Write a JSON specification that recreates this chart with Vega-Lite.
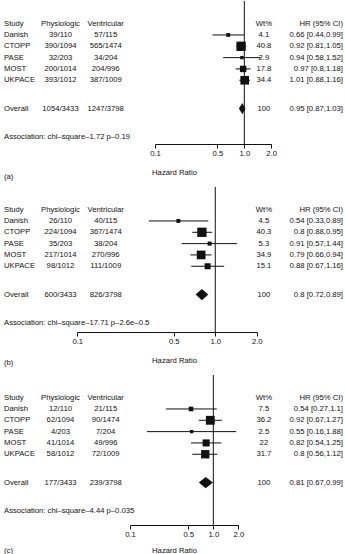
{
  "$schema": "https://vega.github.io/schema/vega-lite/v6.json",
  "padding": 0,
  "background": "white",
  "bounds": "flush",
  "spacing": 43,
  "config": {
    "view": {"stroke": null},
    "text": {"font": "Liberation Sans", "fontSize": 7.7, "color": "#111"},
    "axis": {"labelFont": "Liberation Sans", "labelFontSize": 7.7, "labelColor": "#111", "titleFont": "Liberation Sans", "titleFontSize": 7.7, "titleFontWeight": "normal", "titleColor": "#111", "domainColor": "#111", "tickColor": "#111", "grid": false}
  },
  "datasets": {
    "dshape": [
      {"pt": "lo", "top": "Overall", "bot": "Overall"},
      {"pt": "hr", "top": "ovTop", "bot": "ovBot"},
      {"pt": "hi", "top": "Overall", "bot": "Overall"}
    ],
    "a": [
      {"row": "header", "study": "Study", "phys": "Physiologic", "vent": "Ventricular", "wt": "Wt%", "ci": "HR (95% CI)"},
      {"row": "Danish", "kind": "study", "study": "Danish", "phys": "39/110", "vent": "57/115", "wt": 4.1, "hr": 0.66, "lo": 0.44, "hi": 0.99, "ci": "0.66 [0.44,0.99]"},
      {"row": "CTOPP", "kind": "study", "study": "CTOPP", "phys": "390/1094", "vent": "565/1474", "wt": 40.8, "hr": 0.92, "lo": 0.81, "hi": 1.05, "ci": "0.92 [0.81,1.05]"},
      {"row": "PASE", "kind": "study", "study": "PASE", "phys": "32/203", "vent": "34/204", "wt": 2.9, "hr": 0.94, "lo": 0.58, "hi": 1.52, "ci": "0.94 [0.58,1.52]"},
      {"row": "MOST", "kind": "study", "study": "MOST", "phys": "200/1014", "vent": "204/996", "wt": 17.8, "hr": 0.97, "lo": 0.8, "hi": 1.18, "ci": "0.97 [0.8,1.18]"},
      {"row": "UKPACE", "kind": "study", "study": "UKPACE", "phys": "393/1012", "vent": "387/1009", "wt": 34.4, "hr": 1.01, "lo": 0.88, "hi": 1.16, "ci": "1.01 [0.88,1.16]"},
      {"row": "Overall", "kind": "overall", "study": "Overall", "phys": "1054/3433", "vent": "1247/3798", "wt": 100, "hr": 0.95, "lo": 0.87, "hi": 1.03, "ci": "0.95 [0.87,1.03]"},
      {"row": "Association", "study": "Association: chi–square–1.72 p–0.19"},
      {"row": "label", "study": "(a)"}
    ],
    "b": [
      {"row": "header", "study": "Study", "phys": "Physiologic", "vent": "Ventricular", "wt": "Wt%", "ci": "HR (95% CI)"},
      {"row": "Danish", "kind": "study", "study": "Danish", "phys": "26/110", "vent": "40/115", "wt": 4.5, "hr": 0.54, "lo": 0.33, "hi": 0.89, "ci": "0.54 [0.33,0.89]"},
      {"row": "CTOPP", "kind": "study", "study": "CTOPP", "phys": "224/1094", "vent": "367/1474", "wt": 40.3, "hr": 0.8, "lo": 0.68, "hi": 0.95, "ci": "0.8 [0.88,0.95]"},
      {"row": "PASE", "kind": "study", "study": "PASE", "phys": "35/203", "vent": "38/204", "wt": 5.3, "hr": 0.91, "lo": 0.57, "hi": 1.44, "ci": "0.91 [0.57,1.44]"},
      {"row": "MOST", "kind": "study", "study": "MOST", "phys": "217/1014", "vent": "270/996", "wt": 34.9, "hr": 0.79, "lo": 0.66, "hi": 0.94, "ci": "0.79 [0.66,0.94]"},
      {"row": "UKPACE", "kind": "study", "study": "UKPACE", "phys": "98/1012", "vent": "111/1009", "wt": 15.1, "hr": 0.88, "lo": 0.67, "hi": 1.16, "ci": "0.88 [0.67,1.16]"},
      {"row": "Overall", "kind": "overall", "study": "Overall", "phys": "600/3433", "vent": "826/3798", "wt": 100, "hr": 0.8, "lo": 0.72, "hi": 0.89, "ci": "0.8 [0.72,0.89]"},
      {"row": "Association", "study": "Association: chi–square–17.71 p–2.6e–0.5"},
      {"row": "label", "study": "(b)"}
    ],
    "c": [
      {"row": "header", "study": "Study", "phys": "Physiologic", "vent": "Ventricular", "wt": "Wt%", "ci": "HR (95% CI)"},
      {"row": "Danish", "kind": "study", "study": "Danish", "phys": "12/110", "vent": "21/115", "wt": 7.5, "hr": 0.54, "lo": 0.27, "hi": 1.1, "ci": "0.54 [0.27,1.1]"},
      {"row": "CTOPP", "kind": "study", "study": "CTOPP", "phys": "62/1094", "vent": "90/1474", "wt": 36.2, "hr": 0.92, "lo": 0.67, "hi": 1.27, "ci": "0.92 [0.67,1.27]"},
      {"row": "PASE", "kind": "study", "study": "PASE", "phys": "4/203", "vent": "7/204", "wt": 2.5, "hr": 0.55, "lo": 0.16, "hi": 1.88, "ci": "0.55 [0.16,1.88]"},
      {"row": "MOST", "kind": "study", "study": "MOST", "phys": "41/1014", "vent": "49/996", "wt": 22, "hr": 0.82, "lo": 0.54, "hi": 1.25, "ci": "0.82 [0.54,1.25]"},
      {"row": "UKPACE", "kind": "study", "study": "UKPACE", "phys": "58/1012", "vent": "72/1009", "wt": 31.7, "hr": 0.8, "lo": 0.56, "hi": 1.12, "ci": "0.8 [0.56,1.12]"},
      {"row": "Overall", "kind": "overall", "study": "Overall", "phys": "177/3433", "vent": "239/3798", "wt": 100, "hr": 0.81, "lo": 0.67, "hi": 0.99, "ci": "0.81 [0.67,0.99]"},
      {"row": "Association", "study": "Association: chi–square–4.44 p–0.035"},
      {"row": "label", "study": "(c)"}
    ]
  },
  "vconcat": [
    {
      "width": 345, "height": 143,
      "data": {"name": "a"},
      "layer": [
        {
          "layer": [
            {"data": {"values": [{"ref": 1}]}, "mark": {"type": "rule", "color": "#111", "strokeWidth": 1}, "encoding": {"x": {"field": "ref", "type": "quantitative"}}},
            {"transform": [{"filter": {"field": "kind", "equal": "study"}}], "mark": {"type": "rule", "color": "#111", "strokeWidth": 1},
             "encoding": {"x": {"field": "lo", "type": "quantitative", "scale": {"type": "log", "domain": [0.1, 2], "range": [155, 271.2], "nice": false},
               "axis": {"orient": "bottom", "values": [0.1, 0.5, 1, 2], "format": ".1f", "tickSize": 4, "labelPadding": 1, "labelOverlap": false, "labelFlush": false, "title": "Hazard Ratio", "titleX": 174, "titleY": 28, "titleBaseline": "middle", "titleAlign": "center"}},
               "x2": {"field": "hi"}, "y": {"field": "row", "type": "nominal", "axis": null}}},
            {"transform": [{"filter": {"field": "kind", "equal": "study"}}], "mark": {"type": "square", "filled": true, "color": "#111", "opacity": 1},
             "encoding": {"x": {"field": "hr", "type": "quantitative"}, "y": {"field": "row", "type": "nominal", "axis": null}, "size": {"field": "wt", "type": "quantitative", "scale": {"domain": [0, 100], "range": [6, 206]}, "legend": null}}},
            {"transform": [{"filter": {"field": "kind", "equal": "overall"}}, {"fold": ["lo", "hr", "hi"], "as": ["pt", "xv"]}, {"lookup": "pt", "from": {"data": {"name": "dshape"}, "key": "pt", "fields": ["top", "bot"]}}],
             "mark": {"type": "area", "orient": "vertical", "color": "#111", "opacity": 1},
             "encoding": {"x": {"field": "xv", "type": "quantitative", "stack": null}, "y": {"field": "top", "type": "nominal", "axis": null}, "y2": {"field": "bot"}}}
          ]
        },
        {
          "encoding": {"y": {"field": "row", "type": "nominal", "axis": null, "scale": {"type": "point", "padding": 0, "range": [0, 175.5], "domain": ["y0","y1","y2","y3","header","y5","Danish","y7","CTOPP","y9","PASE","y11","MOST","y13","UKPACE","y15","y16","y17","ovTop","Overall","ovBot","y21","y22","y23","Association","y25","y26","y27","y28","y29","y30","label"]}}},
          "layer": [
            {"transform": [{"fold": ["phys", "vent", "wt"], "as": ["col", "txt"]}, {"filter": "datum.txt != null"}], "mark": {"type": "text", "align": "center", "baseline": "middle"},
             "encoding": {"x": {"field": "col", "type": "nominal", "axis": null, "scale": {"type": "point", "padding": 0, "range": [4, 343], "domain": ["study","x1","x2","x3","x4","phys","x6","x7","x8","vent","x10","x11","x12","x13","x14","x15","x16","x17","x18","x19","x20","x21","x22","wt","x24","x25","x26","x27","x28","x29","hr"]}}, "text": {"field": "txt", "type": "nominal"}}},
            {"mark": {"type": "text", "align": "left", "baseline": "middle"}, "encoding": {"x": {"datum": "study", "type": "nominal", "axis": null}, "text": {"field": "study", "type": "nominal"}}},
            {"transform": [{"filter": "datum.ci != null"}], "mark": {"type": "text", "align": "right", "baseline": "middle"}, "encoding": {"x": {"datum": "hr", "type": "nominal", "axis": null}, "text": {"field": "ci", "type": "nominal"}}}
          ]
        }
      ],
      "resolve": {"scale": {"x": "independent"}}
    },
    {
      "width": 345, "height": 145,
      "data": {"name": "b"},
      "layer": [
        {
          "layer": [
            {"data": {"values": [{"ref": 1}]}, "mark": {"type": "rule", "color": "#111", "strokeWidth": 1}, "encoding": {"x": {"field": "ref", "type": "quantitative"}}},
            {"transform": [{"filter": {"field": "kind", "equal": "study"}}], "mark": {"type": "rule", "color": "#111", "strokeWidth": 1},
             "encoding": {"x": {"field": "lo", "type": "quantitative", "scale": {"type": "log", "domain": [0.1, 2], "range": [77.3, 256.8], "nice": false},
               "axis": {"orient": "bottom", "values": [0.1, 0.5, 1, 2], "format": ".1f", "tickSize": 4, "labelPadding": 1, "labelOverlap": false, "labelFlush": false, "title": "Hazard Ratio", "titleX": 174, "titleY": 28, "titleBaseline": "middle", "titleAlign": "center"}},
               "x2": {"field": "hi"}, "y": {"field": "row", "type": "nominal", "axis": null}}},
            {"transform": [{"filter": {"field": "kind", "equal": "study"}}], "mark": {"type": "square", "filled": true, "color": "#111", "opacity": 1},
             "encoding": {"x": {"field": "hr", "type": "quantitative"}, "y": {"field": "row", "type": "nominal", "axis": null}, "size": {"field": "wt", "type": "quantitative", "scale": {"domain": [0, 100], "range": [6, 206]}, "legend": null}}},
            {"transform": [{"filter": {"field": "kind", "equal": "overall"}}, {"fold": ["lo", "hr", "hi"], "as": ["pt", "xv"]}, {"lookup": "pt", "from": {"data": {"name": "dshape"}, "key": "pt", "fields": ["top", "bot"]}}],
             "mark": {"type": "area", "orient": "vertical", "color": "#111", "opacity": 1},
             "encoding": {"x": {"field": "xv", "type": "quantitative", "stack": null}, "y": {"field": "top", "type": "nominal", "axis": null}, "y2": {"field": "bot"}}}
          ]
        },
        {
          "encoding": {"y": {"field": "row", "type": "nominal", "axis": null, "scale": {"type": "point", "padding": 0, "range": [0, 175.5], "domain": ["y0","y1","y2","y3","header","y5","Danish","y7","CTOPP","y9","PASE","y11","MOST","y13","UKPACE","y15","y16","y17","ovTop","Overall","ovBot","y21","y22","y23","Association","y25","y26","y27","y28","y29","y30","label"]}}},
          "layer": [
            {"transform": [{"fold": ["phys", "vent", "wt"], "as": ["col", "txt"]}, {"filter": "datum.txt != null"}], "mark": {"type": "text", "align": "center", "baseline": "middle"},
             "encoding": {"x": {"field": "col", "type": "nominal", "axis": null, "scale": {"type": "point", "padding": 0, "range": [4, 343], "domain": ["study","x1","x2","x3","x4","phys","x6","x7","x8","vent","x10","x11","x12","x13","x14","x15","x16","x17","x18","x19","x20","x21","x22","wt","x24","x25","x26","x27","x28","x29","hr"]}}, "text": {"field": "txt", "type": "nominal"}}},
            {"mark": {"type": "text", "align": "left", "baseline": "middle"}, "encoding": {"x": {"datum": "study", "type": "nominal", "axis": null}, "text": {"field": "study", "type": "nominal"}}},
            {"transform": [{"filter": "datum.ci != null"}], "mark": {"type": "text", "align": "right", "baseline": "middle"}, "encoding": {"x": {"datum": "hr", "type": "nominal", "axis": null}, "text": {"field": "ci", "type": "nominal"}}}
          ]
        }
      ],
      "resolve": {"scale": {"x": "independent"}}
    },
    {
      "width": 345, "height": 150,
      "data": {"name": "c"},
      "layer": [
        {
          "layer": [
            {"data": {"values": [{"ref": 1}]}, "mark": {"type": "rule", "color": "#111", "strokeWidth": 1}, "encoding": {"x": {"field": "ref", "type": "quantitative"}}},
            {"transform": [{"filter": {"field": "kind", "equal": "study"}}], "mark": {"type": "rule", "color": "#111", "strokeWidth": 1},
             "encoding": {"x": {"field": "lo", "type": "quantitative", "scale": {"type": "log", "domain": [0.1, 2], "range": [130, 238.4], "nice": false},
               "axis": {"orient": "bottom", "values": [0.1, 0.5, 1, 2], "format": ".1f", "tickSize": 4, "labelPadding": 1, "labelOverlap": false, "labelFlush": false, "title": "Hazard Ratio", "titleX": 174, "titleY": 25, "titleBaseline": "middle", "titleAlign": "center"}},
               "x2": {"field": "hi"}, "y": {"field": "row", "type": "nominal", "axis": null}}},
            {"transform": [{"filter": {"field": "kind", "equal": "study"}}], "mark": {"type": "square", "filled": true, "color": "#111", "opacity": 1},
             "encoding": {"x": {"field": "hr", "type": "quantitative"}, "y": {"field": "row", "type": "nominal", "axis": null}, "size": {"field": "wt", "type": "quantitative", "scale": {"domain": [0, 100], "range": [6, 206]}, "legend": null}}},
            {"transform": [{"filter": {"field": "kind", "equal": "overall"}}, {"fold": ["lo", "hr", "hi"], "as": ["pt", "xv"]}, {"lookup": "pt", "from": {"data": {"name": "dshape"}, "key": "pt", "fields": ["top", "bot"]}}],
             "mark": {"type": "area", "orient": "vertical", "color": "#111", "opacity": 1},
             "encoding": {"x": {"field": "xv", "type": "quantitative", "stack": null}, "y": {"field": "top", "type": "nominal", "axis": null}, "y2": {"field": "bot"}}}
          ]
        },
        {
          "encoding": {"y": {"field": "row", "type": "nominal", "axis": null, "scale": {"type": "point", "padding": 0, "range": [0, 175.5], "domain": ["y0","y1","y2","y3","header","y5","Danish","y7","CTOPP","y9","PASE","y11","MOST","y13","UKPACE","y15","y16","y17","ovTop","Overall","ovBot","y21","y22","y23","Association","y25","y26","y27","y28","y29","y30","label"]}}},
          "layer": [
            {"transform": [{"fold": ["phys", "vent", "wt"], "as": ["col", "txt"]}, {"filter": "datum.txt != null"}], "mark": {"type": "text", "align": "center", "baseline": "middle"},
             "encoding": {"x": {"field": "col", "type": "nominal", "axis": null, "scale": {"type": "point", "padding": 0, "range": [4, 343], "domain": ["study","x1","x2","x3","x4","phys","x6","x7","x8","vent","x10","x11","x12","x13","x14","x15","x16","x17","x18","x19","x20","x21","x22","wt","x24","x25","x26","x27","x28","x29","hr"]}}, "text": {"field": "txt", "type": "nominal"}}},
            {"mark": {"type": "text", "align": "left", "baseline": "middle"}, "encoding": {"x": {"datum": "study", "type": "nominal", "axis": null}, "text": {"field": "study", "type": "nominal"}}},
            {"transform": [{"filter": "datum.ci != null"}], "mark": {"type": "text", "align": "right", "baseline": "middle"}, "encoding": {"x": {"datum": "hr", "type": "nominal", "axis": null}, "text": {"field": "ci", "type": "nominal"}}}
          ]
        }
      ],
      "resolve": {"scale": {"x": "independent"}}
    }
  ]
}
